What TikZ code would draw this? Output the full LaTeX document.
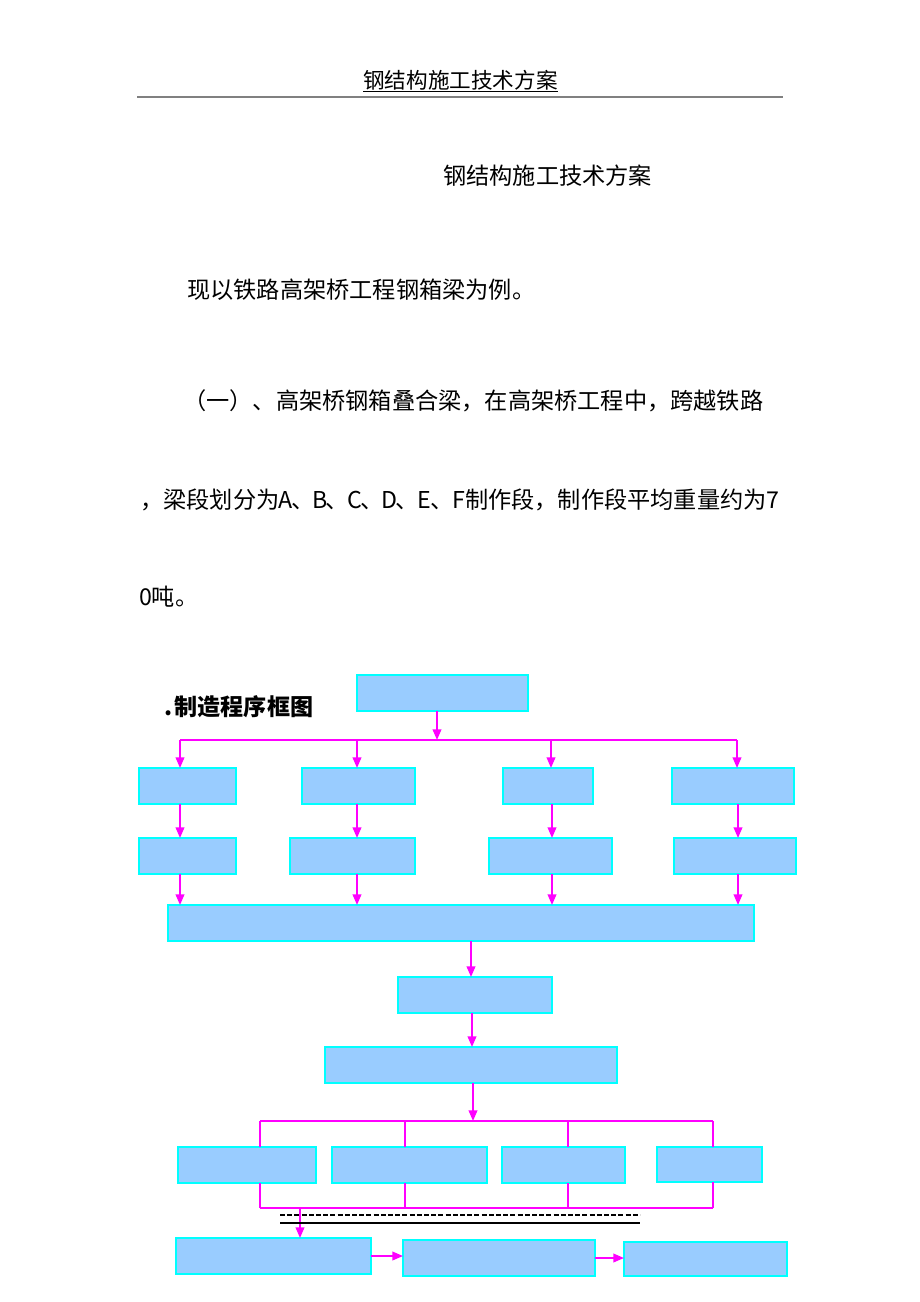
\documentclass[tikz,border=0pt]{standalone}
\usepackage{fontspec}
\newfontfamily\cjk{Noto Sans CJK SC}
\usetikzlibrary{arrows.meta}
\definecolor{boxfill}{HTML}{99CCFF}
\definecolor{boxline}{HTML}{00FFFF}
\definecolor{mag}{HTML}{FF00FF}
\newcommand\bx[5]{\node[box, minimum width={(#4-#2)*0.75pt}, minimum height={(#5-#3)*0.75pt}] (#1) at ({(#2+#4)/2},{(#3+#5)/2}) {};}
\newcommand\hw[1]{\makebox[0.5em][c]{#1}}
\begin{document}
\begin{tikzpicture}[x=0.75pt,y=-0.75pt,
  box/.style={draw=boxline, fill=boxfill, line width=1pt, inner sep=0pt, outer sep=0pt, rectangle},
  arr/.style={draw=mag, line width=1.3pt, -{Triangle[length=8pt,width=6.5pt]}},
  ln/.style={draw=mag, line width=1.3pt},
  thin/.style={draw=mag, line width=0.9pt},
  txt/.style={font=\cjk\fontsize{17.4}{20}\selectfont, inner sep=0pt, anchor=west},
  hdrtxt/.style={font=\cjk\fontsize{16.2}{18}\selectfont, inner sep=0pt, anchor=west},
  bold/.style={font=\cjk\bfseries\fontsize{17.3}{19}\selectfont, inner sep=0pt, anchor=west}]
\useasboundingbox (0,0) rectangle (920,1302);
\fill[white] (0,0) rectangle (920,1302);

% header
\node[hdrtxt] (hdr) at (363,80) {钢结构施工技术方案};
\draw[line width=0.6pt] ([yshift=-1pt]hdr.south west) -- ([yshift=-1pt]hdr.south east);
\draw[gray, line width=0.8pt] (137,97) -- (783,97);

% body text
\node[txt] (title) at (443,176) {钢结构施工技术方案};
\node[txt] (p1) at (187,290) {现以铁路高架桥工程钢箱梁为例。};
\node[txt] (p2) at (183,401) {（一）、高架桥钢箱叠合梁，在高架桥工程中，跨越铁路};
\node[txt] (p3) at (140,500) {，梁段划分为\hw{A}、\hw{B}、\hw{C}、\hw{D}、\hw{E}、\hw{F}制作段，制作段平均重量约为\hw{7}};
\node[txt] (p4) at (140,597) {\hw{0}吨。};
\node[bold] (lbl) at (163,707) {\hw{.}制造程序框图};

% boxes
\bx{top}{357}{675}{528}{711}
\bx{a1}{139}{768}{236}{804}
\bx{a2}{302}{768}{415}{804}
\bx{a3}{503}{768}{593}{804}
\bx{a4}{672}{768}{794}{804}
\bx{b1}{139}{838}{236}{874}
\bx{b2}{290}{838}{415}{874}
\bx{b3}{489}{838}{612}{874}
\bx{b4}{674}{838}{796}{874}
\bx{big}{168}{905}{754}{941}
\bx{m1}{398}{977}{552}{1013}
\bx{m2}{325}{1047}{617}{1083}
\bx{c1}{178}{1147}{316}{1183}
\bx{c2}{332}{1147}{487}{1183}
\bx{c3}{502}{1147}{625}{1183}
\bx{c4}{657}{1147}{762}{1182}
\bx{d1}{176}{1238}{371}{1274}
\bx{d2}{403}{1240}{595}{1276}
\bx{d3}{624}{1242}{787}{1276}

% top branching
\coordinate (j0) at (437,740);
\coordinate (h1) at (180,740);
\coordinate (h2) at (357,740);
\coordinate (h3) at (551,740);
\coordinate (h4) at (737,740);
\draw[arr] (top.south -| j0) -- (j0);
\draw[ln] (h1) -- (h4);
\draw[arr] (h1) -- (a1.north -| h1);
\draw[arr] (h2) -- (a2.north -| h2);
\draw[arr] (h3) -- (a3.north -| h3);
\draw[arr] (h4) -- (a4.north -| h4);

\coordinate (v1) at (180,0);
\coordinate (v2) at (357,0);
\coordinate (v3) at (552,0);
\coordinate (v4) at (738,0);
\draw[arr] (a1.south -| v1) -- (b1.north -| v1);
\draw[arr] (a2.south -| v2) -- (b2.north -| v2);
\draw[arr] (a3.south -| v3) -- (b3.north -| v3);
\draw[arr] (a4.south -| v4) -- (b4.north -| v4);
\draw[arr] (b1.south -| v1) -- (big.north -| v1);
\draw[arr] (b2.south -| v2) -- (big.north -| v2);
\draw[arr] (b3.south -| v3) -- (big.north -| v3);
\draw[arr] (b4.south -| v4) -- (big.north -| v4);

\coordinate (q1) at (471,0);
\coordinate (q2) at (472,0);
\draw[arr] (big.south -| q1) -- (m1.north -| q1);
\draw[arr] (m1.south -| q2) -- (m2.north -| q2);

% bottom branching
\coordinate (k0) at (473,1121);
\coordinate (g1) at (260,1121);
\coordinate (g2) at (405,1121);
\coordinate (g3) at (568,1121);
\coordinate (g4) at (713,1121);
\coordinate (e1) at (260,1208);
\coordinate (e2) at (405,1208);
\coordinate (e3) at (568,1208);
\coordinate (e4) at (713,1208);
\coordinate (f) at (300,1208);
\draw[arr] (m2.south -| k0) -- (k0);
\draw[thin] (g1) -- (g4);
\draw[thin] (g1) -- (c1.north -| g1);
\draw[thin] (g2) -- (c2.north -| g2);
\draw[thin] (g3) -- (c3.north -| g3);
\draw[thin] (g4) -- (c4.north -| g4);
\draw[thin] (c1.south -| e1) -- (e1);
\draw[thin] (c2.south -| e2) -- (e2);
\draw[thin] (c3.south -| e3) -- (e3);
\draw[thin] (c4.south -| e4) -- (e4);
\draw[thin] (e1) -- (e4);
\draw[arr] (f) -- (d1.north -| f);

% black separator lines
\draw[black, line width=1.1pt, dash pattern=on 3.8pt off 1.6pt] (280,1215) -- (640,1215);
\draw[black, line width=1pt] (280,1223) -- (640,1223);

\draw[arr] (d1.east) -- (d1.east -| d2.west);
\draw[arr] (d2.east) -- (d2.east -| d3.west);
\end{tikzpicture}
\end{document}
